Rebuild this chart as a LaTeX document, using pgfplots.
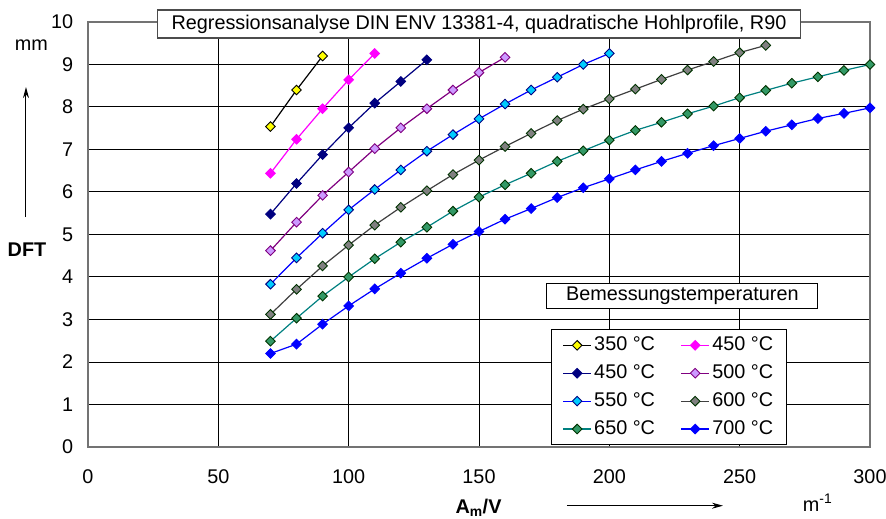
\documentclass[border=0pt]{standalone}
\usepackage{fontspec}
\setmainfont{Liberation Sans}
\usepackage{pgfplots}
\pgfplotsset{compat=1.18}
\usetikzlibrary{arrows.meta}
\newcommand{\fsz}{\fontsize{19.9}{22}\selectfont}
\definecolor{cYel}{HTML}{FFFF00}
\definecolor{cMag}{HTML}{FF00FF}
\definecolor{cNavy}{HTML}{000080}
\definecolor{cPurp}{HTML}{800080}
\definecolor{cLav}{HTML}{CC99FF}
\definecolor{cBlue}{HTML}{0000FF}
\definecolor{cSky}{HTML}{00CCFF}
\definecolor{cDGrey}{HTML}{404040}
\definecolor{cGrey}{HTML}{808080}
\definecolor{cTeal}{HTML}{008080}
\definecolor{cSea}{HTML}{339966}
\definecolor{cDGreen}{HTML}{003300}
\pgfplotsset{
  ser/.style n args={3}{color=#1, line width=1.2bp, mark=square*, mark size=3.4bp,
     mark options={rotate=45, fill=#2, draw=#3, line width=0.9bp, solid}},
}
\begin{document}
\begin{tikzpicture}
\begin{axis}[
  scale only axis, width=782bp, height=425bp,
  xmin=0, xmax=300, ymin=0, ymax=10,
  xtick={0,50,...,300}, ytick={0,1,...,10},
  grid=major, major grid style={black, line width=1bp},
  axis line style={draw=black!55, line width=1.6bp},
  major tick length=0pt,
  tick label style={font=\fsz, /pgf/number format/assume math mode=true},
  xticklabel style={anchor=base, inner sep=0pt, yshift=-36bp},
  yticklabel style={anchor=east, inner sep=0pt, xshift=-14.7bp},
  clip=false,
  legend columns=2,
  legend cell align=left,
  legend style={at={(axis cs:177.6,2.77)}, anchor=north west, draw=black, line width=1.2bp,
     fill=white, font=\fsz, inner xsep=11bp, inner ysep=4.2bp, row sep=5.4bp,
     nodes={text height=14.5bp, text depth=4bp, inner ysep=2bp, inner xsep=2.5bp},
     /tikz/every even column/.append style={column sep=23bp}},
  legend image code/.code={\draw[mark repeat=2,mark phase=2] plot coordinates {(0bp,0bp)(14bp,0bp)(28bp,0bp)};},
]
\addplot[ser={black}{cYel}{black}] coordinates {(70,7.54)(80,8.40)(90,9.20)};
\addlegendentry{350 °C}
\addplot[ser={cMag}{cMag}{cMag}] coordinates {(70,6.44)(80,7.24)(90,7.96)(100,8.64)(110,9.26)};
\addlegendentry{450 °C}
\addplot[ser={cNavy}{cNavy}{cNavy}] coordinates {(70,5.48)(80,6.20)(90,6.88)(100,7.51)(110,8.09)(120,8.60)(130,9.11)};
\addlegendentry{450 °C}
\addplot[ser={cPurp}{cLav}{cPurp}] coordinates {(70,4.62)(80,5.29)(90,5.92)(100,6.47)(110,7.02)(120,7.51)(130,7.96)(140,8.40)(150,8.81)(160,9.17)};
\addlegendentry{500 °C}
\addplot[ser={cBlue}{cSky}{cNavy}] coordinates {(70,3.83)(80,4.45)(90,5.03)(100,5.58)(110,6.06)(120,6.52)(130,6.96)(140,7.35)(150,7.72)(160,8.07)(170,8.40)(180,8.70)(190,9.00)(200,9.26)};
\addlegendentry{550 °C}
\addplot[ser={cDGrey}{cGrey}{cDGreen}] coordinates {(70,3.12)(80,3.71)(90,4.26)(100,4.75)(110,5.22)(120,5.64)(130,6.03)(140,6.41)(150,6.75)(160,7.07)(170,7.38)(180,7.68)(190,7.95)(200,8.19)(210,8.42)(220,8.65)(230,8.87)(240,9.07)(250,9.28)(260,9.45)};
\addlegendentry{600 °C}
\addplot[ser={cTeal}{cSea}{cDGreen}] coordinates {(70,2.49)(80,3.03)(90,3.55)(100,4.00)(110,4.43)(120,4.82)(130,5.17)(140,5.55)(150,5.88)(160,6.17)(170,6.44)(180,6.72)(190,6.97)(200,7.22)(210,7.45)(220,7.64)(230,7.84)(240,8.02)(250,8.22)(260,8.39)(270,8.56)(280,8.71)(290,8.86)(300,9.00)};
\addlegendentry{650 °C}
\addplot[ser={cBlue}{cBlue}{cBlue}] coordinates {(70,2.20)(80,2.42)(90,2.89)(100,3.32)(110,3.72)(120,4.09)(130,4.44)(140,4.77)(150,5.07)(160,5.36)(170,5.61)(180,5.87)(190,6.10)(200,6.31)(210,6.52)(220,6.72)(230,6.91)(240,7.09)(250,7.26)(260,7.43)(270,7.58)(280,7.73)(290,7.85)(300,7.98)};
\addlegendentry{700 °C}
% title
\node[draw=black!70, fill=white, line width=1.2bp, minimum width=643bp, minimum height=28bp,
      inner sep=0pt, font=\fsz] at (rel axis cs:0.5,1) [yshift=-2bp]
      {Regressionsanalyse DIN ENV 13381-4, quadratische Hohlprofile, R90};
% legend title
\node[draw=black, fill=white, line width=1.2bp, minimum width=271bp, minimum height=25bp,
      inner sep=0pt, font=\fsz] at (axis cs:228,3.55) {Bemessungstemperaturen};
% y label
\node[font=\fsz] at (rel axis cs:0,0.946) [xshift=-56.5bp] {mm};
\node[font=\fsz\bfseries] at (rel axis cs:0,0.4635) [xshift=-61bp] {DFT};
\draw[black, line width=1bp, -{Stealth[length=11bp,width=6bp]}]
   (rel axis cs:0,0.541) ++(-62bp,0) -- ++(0,130bp);
% x label
\node[font=\fsz\bfseries, anchor=base] at (rel axis cs:0.4994,0) [yshift=-66.5bp] {A\textsubscript{m}/V};
\draw[black, line width=1bp, -{Stealth[length=11bp,width=6bp]}]
   (rel axis cs:0.6125,0) ++(0,-58.7bp) -- ++(156bp,0);
\node[font=\fsz, anchor=base west, inner sep=0pt] at (rel axis cs:0.914,0) [yshift=-64bp] {m\textsuperscript{-1}};
\coordinate (BL) at (rel axis cs:0,0);
\end{axis}
\pgfresetboundingbox
\path (BL) ++(-88bp,-72bp) rectangle ++(886bp,519bp);
\end{tikzpicture}
\end{document}
